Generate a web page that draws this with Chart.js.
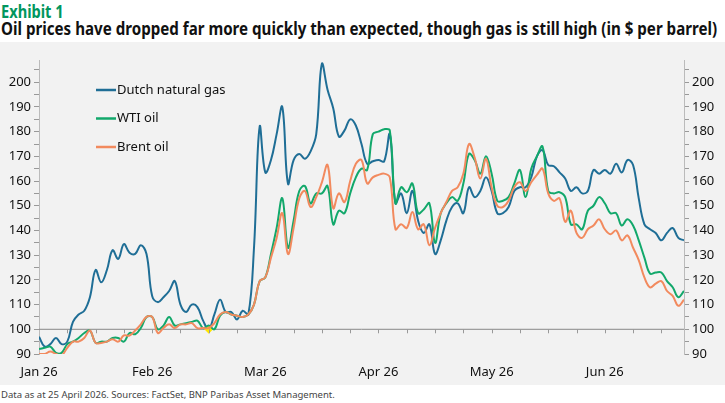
<!DOCTYPE html>
<html>
<head>
<meta charset="utf-8">
<script src="https://cdn.jsdelivr.net/npm/chart.js@4/dist/chart.umd.min.js"></script>
<style>
  body { margin: 0; width: 725px; height: 403px; background: #fff; font-family: "Noto Sans", sans-serif; overflow: hidden; }
  #exhibit { position: absolute; left: 1px; top: 0px; font: bold 17px "Noto Sans", sans-serif; color: #00965e; transform: scaleX(0.86); transform-origin: left; white-space: nowrap; }
  #title { position: absolute; left: 1px; top: 17px; font: bold 17px "Noto Sans", sans-serif; color: #111; transform: scaleX(0.89); transform-origin: left; white-space: nowrap; }
  #panel { position: absolute; left: 0; top: 42px; width: 725px; height: 343px; background: #f2f2f2; }
  #source { position: absolute; left: 1px; top: 388px; font-size: 9.5px; color: #444; }
</style>
</head>
<body>
<div id="exhibit">Exhibit 1</div>
<div id="title">Oil prices have dropped far more quickly than expected, though gas is still high (in $ per barrel)</div>
<div id="panel"><canvas id="chart" width="725" height="343"></canvas></div>
<div id="source">Data as at 25 April 2026. Sources: FactSet, BNP Paribas Asset Management.</div>
<script>
// month labels every 20 points
var monthLabels = { 0: "Jan 26", 20: "Feb 26", 40: "Mar 26", 60: "Apr 26", 80: "May 26", 100: "Jun 26" }

var gas = [97, 93, 94, 96.5, 94, 95, 103, 106, 107.5, 113, 124, 119, 124, 132, 128.5, 134.5, 131, 130.5, 134, 130.5,
  113.5, 111, 113, 115.5, 119.5, 110, 107, 110, 109, 103.5, 100, 106, 112, 107, 107, 104, 107.5, 106, 133, 182,
  163.5, 168.5, 179, 190, 159, 168.5, 171, 169, 172, 179, 207.5, 197, 189.5, 178, 180.5, 185, 182.5, 175, 167, 168,
  168.5, 168, 179, 151, 155, 147, 156, 144, 139, 142.5, 130.5, 136, 144, 149.5, 151, 147, 157.5, 153.5, 156, 161.5,
  156, 147, 147, 149.5, 156, 157.5, 157.5, 161.5, 170, 172.5, 166.5, 166, 163.5, 161, 156, 157.5, 155, 156, 164.5, 163,
  164.5, 163, 167, 163.5, 168.5, 166.5, 153, 142.5, 140.5, 139, 136, 139, 141, 137, 136]

var wti = [92, 92.5, 93, 90.5, 90.5, 94, 95, 96.5, 98.5, 99.5, 94.5, 95, 95, 96.5, 96.5, 95, 98.5, 98, 100.5, 105,
  105, 100, 101.5, 105, 101.5, 102, 102.5, 103, 103.5, 100.5, 101.5, 100, 105.5, 107, 106, 105.5, 105, 106, 110, 119.5,
  121, 130.5, 141, 153, 133, 144, 156, 158, 151, 155, 155, 158, 142.5, 148, 147, 155, 161.5, 165, 164.5, 179,
  180, 181, 180.5, 151, 157.5, 155.5, 159, 147, 148.5, 151, 135, 147, 151, 153.5, 152, 159, 171, 168.5, 163, 170,
  163, 152, 152, 153.5, 159, 164.5, 153.5, 165, 170, 174, 156, 155, 155.5, 153.5, 142.5, 142.5, 140.5, 148, 150, 153.5,
  151, 147, 147, 142, 144.5, 142, 136, 129, 122.5, 123, 123, 119.5, 117, 113, 115.5]

var brent = [90, 90, 91, 90, 89.5, 92.5, 95, 95, 96.5, 99.5, 94.5, 94.5, 95, 96, 95, 97.5, 97.5, 99.5, 102, 105,
  105, 98.5, 100.5, 102, 100.5, 102, 102, 102.5, 100.5, 100.5, 100.5, 102.5, 106, 107, 106, 105.5, 105, 106, 110, 119.5,
  121, 129, 137, 147, 130.5, 141, 153, 156, 149.5, 153.5, 159.5, 166.5, 149, 155, 151.5, 160, 167, 168.5, 159, 161.5,
  162.5, 163, 161.5, 140.5, 142.5, 141, 147.5, 140.5, 142.5, 134, 141, 147, 151.5, 156, 157.5, 163, 175, 169.5, 161, 169,
  157.5, 150, 149.5, 152, 157.5, 159.5, 156, 159.5, 162.5, 165, 155, 152, 153, 143.5, 148, 139, 137, 140.5, 142, 144.5,
  140.5, 138.5, 140, 136, 138, 133, 128, 121, 117, 118.5, 119.5, 115.5, 113.5, 109.5, 112]

var baseline = [100, 100]

function pts(arr) { return arr.map((v, i) => ({ x: i, y: v })) }

// legend drawn inside the plot
const innerLegend = {
  id: "innerLegend",
  afterDraw(chart) {
    const ctx = chart.ctx
    ctx.save()
    ctx.font = "13px 'Noto Sans', sans-serif"
    ctx.textBaseline = "middle"
    ;[0, 1, 2].forEach((r, k) => {
      const ds = chart.data.datasets[r]
      const y = 48 + k * 28.5
      ctx.strokeStyle = ds.borderColor
      ctx.lineWidth = 2.5
      ctx.beginPath(); ctx.moveTo(96, y); ctx.lineTo(116, y); ctx.stroke()
      ctx.fillStyle = "#111"
      ctx.fillText(ds.label, 117, y)
    })
    ctx.restore()
  }
}

const tickFont = { family: "'Noto Sans', sans-serif", size: 13 }

new Chart(document.getElementById("chart"), {
  type: "line",
  data: {
    datasets: [
      { label: "Dutch natural gas", data: pts(gas), borderColor: "#1f6e96", borderWidth: 2,
        pointRadius: ctx => ctx.dataIndex == 30 ? 3 : 0, pointStyle: "rectRot",
        pointBackgroundColor: "#ffe600", pointBorderColor: "#ffe600", tension: 0.4, order: 3 },
      { label: "WTI oil", data: pts(wti), borderColor: "#12a86b", borderWidth: 2, pointRadius: 0, tension: 0.4, order: 2 },
      { label: "Brent oil", data: pts(brent), borderColor: "#f28a5e", borderWidth: 2, pointRadius: 0, tension: 0.4, order: 1 },
      { label: "base", data: [{ x: 0, y: baseline[0] }, { x: 114, y: baseline[1] }], borderColor: "#888", borderWidth: 1, pointRadius: 0, order: 4 }
    ]
  },
  options: {
    responsive: false,
    animation: false,
    layout: { padding: { top: 18, bottom: 0 } },
    plugins: { legend: { display: false }, tooltip: { enabled: false } },
    scales: {
      x: {
        type: "linear", min: 0, max: 114,
        position: "bottom",
        afterBuildTicks: axis => { axis.ticks = []; for (let v = 0; v <= 110; v += 5) axis.ticks.push({ value: v }) },
        afterFit: axis => { axis.height = 31 },
        grid: { drawOnChartArea: false, drawTicks: false },
        border: { display: false },
        ticks: { autoSkip: false, maxRotation: 0, padding: 10, color: "#111", font: tickFont,
          callback: v => monthLabels[v] || "" }
      },
      y: {
        position: "left", min: 90, max: 209,
        afterBuildTicks: axis => { axis.ticks = []; for (let v = 90; v <= 205; v += 5) axis.ticks.push({ value: v }) },
        afterFit: axis => { axis.width = 39 },
        grid: { drawOnChartArea: false, tickLength: 5, color: "#999" },
        border: { color: "#bbb" },
        ticks: { autoSkip: false, padding: 3, color: "#111", font: tickFont, callback: v => v % 10 == 0 ? v : "" }
      },
      y2: {
        position: "right", min: 90, max: 209,
        afterBuildTicks: axis => { axis.ticks = []; for (let v = 90; v <= 205; v += 5) axis.ticks.push({ value: v }) },
        afterFit: axis => { axis.width = 41 },
        grid: { drawOnChartArea: false, tickLength: 5, color: "#999" },
        border: { color: "#bbb" },
        ticks: { autoSkip: false, padding: 3, color: "#111", font: tickFont, callback: v => v % 10 == 0 ? v : "" }
      }
    }
  },
  plugins: [innerLegend, {
    id: "xTicksOnBase",
    afterDraw(chart) {
      // small tick marks hanging from the 100 line
      const ctx = chart.ctx, x = chart.scales.x, y = chart.scales.y.getPixelForValue(100)
      ctx.save(); ctx.strokeStyle = "#999"; ctx.lineWidth = 1
      for (let v = 5; v <= 110; v += 5) {
        const px = Math.round(x.getPixelForValue(v)) + 0.5
        ctx.beginPath(); ctx.moveTo(px, y); ctx.lineTo(px, y + 4); ctx.stroke()
      }
      ctx.restore()
    }
  }]
})
</script>
</body>
</html>
